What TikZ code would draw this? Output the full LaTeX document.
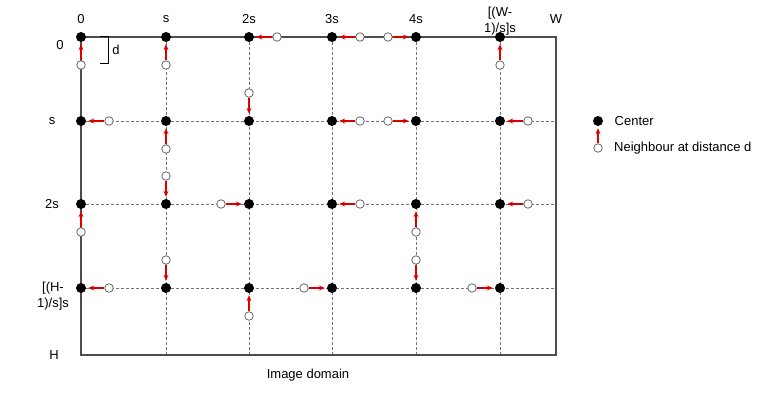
\documentclass[tikz,border=0pt]{standalone}
\usepackage{fontspec}
\setmainfont{Liberation Sans}
\usetikzlibrary{positioning}
\usetikzlibrary{calc}
\usetikzlibrary{arrows.meta}

\begin{document}
\begin{tikzpicture}[x=1pt,y=-1pt,font=\fontsize{13}{16}\selectfont,
ctr/.style={circle,fill=black,inner sep=0pt,minimum size=10pt},
nbr/.style={circle,draw=black!60,fill=white,line width=0.8pt,inner sep=0pt,minimum size=8.5pt},
pull/.style={-{Stealth[length=6pt,width=5pt]},draw=red!85!black,line width=1.3pt,shorten >=2pt},
gridline/.style={densely dashed,black!55,line width=0.6pt}, lbl/.style={align=center,inner sep=1pt}]
\useasboundingbox (0,0) rectangle (781,398);
% lattice and image border
\foreach \x in {166,249,332,416,500} \draw[gridline] (\x,37) -- (\x,355);
\foreach \y in {121,204,288} \draw[gridline] (81,\y) -- (556,\y);
\draw[black!70,line width=1.3pt] (81,37) rectangle (556,355);
% centers
\foreach \x [count=\i from 0] in {81,166,249,332,416,500}
  \foreach \y [count=\j from 0] in {37,121,204,288}
    \node[ctr] (c\i\j) at (\x,\y) {};
% neighbours at distance d, pulled to their center
\foreach \i/\j/\dx/\dy in {0/0/0/1,1/0/0/1,2/0/1/0,3/0/1/0,4/0/-1/0,5/0/0/1,
  0/1/1/0,1/1/0/1,2/1/0/-1,3/1/1/0,4/1/-1/0,5/1/1/0,
  0/2/0/1,1/2/0/-1,2/2/-1/0,3/2/1/0,4/2/0/1,5/2/1/0,
  0/3/1/0,1/3/0/-1,2/3/0/1,3/3/-1/0,4/3/0/-1,5/3/-1/0}{
  \node[nbr] (n\i\j) at ($(c\i\j)+(28*\dx,28*\dy)$) {};
  \draw[pull] (n\i\j) -- (c\i\j);
}
% axis labels
\foreach \x/\t [count=\i from 0] in {81/0,166/s,249/2s,332/3s,416/4s}
  \node (x\i) at (\x,19) {\t};
\node[lbl] (x5) at (500,21) {[(W-\\1)/s]s};
\node (xW) at (556,19) {W};
\node (y0) at (60,45) {0};
\node (y1) at (52,121) {s};
\node (y2) at (52,204) {2s};
\node[lbl] (y3) at (53,296) {[(H-\\1)/s]s};
\node (yH) at (54,355) {H};
\draw[line width=1pt] (100,37) -- (108,37) -- (108,64) -- (100,64);
\node (dd) at (116,50) {d};
\node (dom) at (308,375) {Image domain};
% legend
\node[ctr] (lc) at (598,121) {};
\node[nbr] (ln) at (598,148) {};
\draw[pull] (ln) -- (lc);
\node[right=8pt of lc] (lct) {Center};
\node[right=8pt of ln] (lnt) {Neighbour at distance d};
\end{tikzpicture}
\end{document}
